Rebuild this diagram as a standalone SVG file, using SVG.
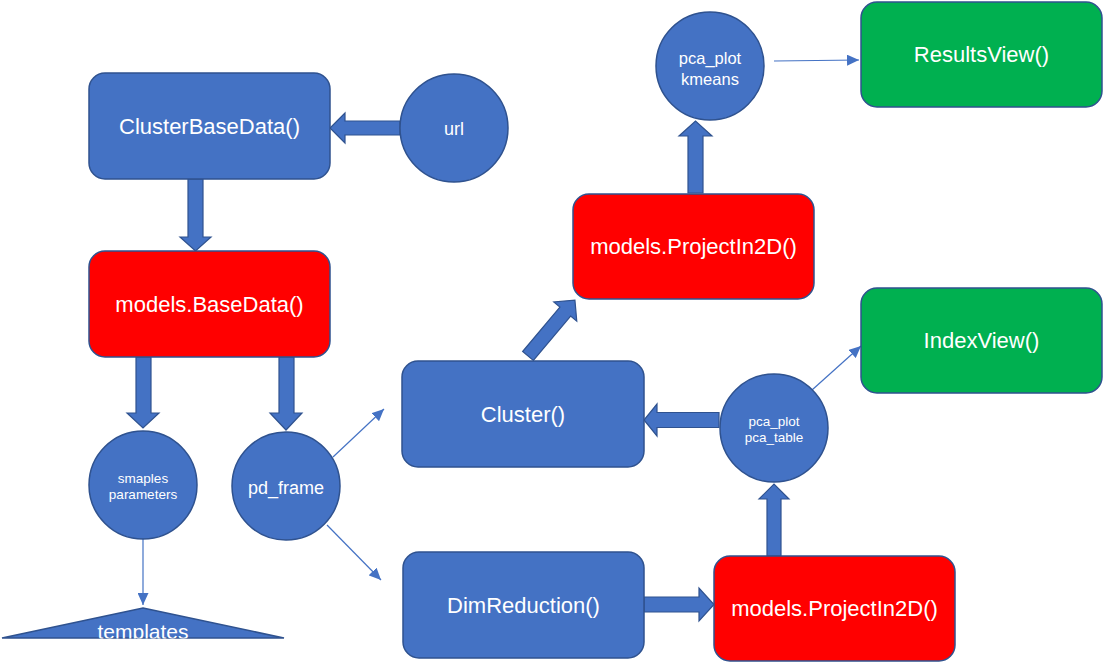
<svg xmlns="http://www.w3.org/2000/svg" width="1103" height="663" viewBox="0 0 1103 663">
<style>
.blue{fill:#4472C4;stroke:#2F528F;stroke-width:1.5}
.red{fill:#FF0000;stroke:#2F528F;stroke-width:1.5}
.green{fill:#00B050;stroke:#2F528F;stroke-width:1.5}
.barrow{fill:#4472C4;stroke:#2F528F;stroke-width:1.2}
.thin{fill:none;stroke:#4472C4;stroke-width:1.2;marker-end:url(#ah)}
text{font-family:"Liberation Sans",Arial,sans-serif;fill:#FFFFFF;text-anchor:middle}
.big{font-size:22px}
.mid{font-size:18px}
.sm{font-size:16.5px}
.xs{font-size:13.5px}
</style>
<defs>
<marker id="ah" markerUnits="userSpaceOnUse" markerWidth="12" markerHeight="11" refX="12" refY="5.5" orient="auto">
<path d="M0,0 L12,5.5 L0,11 z" fill="#4472C4"/>
</marker>
<clipPath id="tclip"><rect x="0" y="600" width="300" height="38.5"/></clipPath>
</defs>
<rect width="1103" height="663" fill="#FFFFFF"/>
<g id="connectors">
<polygon class="barrow" points="400,121 345,121 345,113 330,128 345,143 345,135 400,135"/>
<polygon class="barrow" points="188,179 203,179 203,237 211,237 195.5,251 180,237 188,237"/>
<polygon class="barrow" points="136,357 151,357 151,413 159,413 143,428 127,413 136,413"/>
<polygon class="barrow" points="279,357 294,357 294,413 302,413 286,430 270,413 279,413"/>
<polygon class="barrow" points="688,193 703,193 703,136 712,136 695.5,121 679,136 688,136"/>
<polygon class="barrow" points="767,556 781,556 781,499 789,499 774,484 759,499 767,499"/>
<polygon class="barrow" points="644,597 699,597 699,588 714,604.5 699,621 699,612 644,612"/>
<polygon class="barrow" points="719,412.5 657,412.5 657,404 644,420 657,436 657,427.5 719,427.5"/>
<polygon class="barrow" transform="translate(528,356) rotate(-50)" points="0,-7 58,-7 58,-15 73,0 58,15 58,7 0,7"/>
<line class="thin" x1="333" y1="457" x2="384" y2="409"/>
<line class="thin" x1="327" y1="525" x2="381" y2="580"/>
<line class="thin" x1="143" y1="538" x2="143" y2="605"/>
<line class="thin" x1="774" y1="61" x2="859" y2="60"/>
<line class="thin" x1="812" y1="390" x2="861" y2="346"/>
</g>
<g id="ClusterBaseData">
<rect class="blue" x="89" y="73" width="241" height="106" rx="16"/>
<text class="big" x="209.5" y="133.5">ClusterBaseData()</text>
</g>
<g id="url">
<circle class="blue" cx="454" cy="128" r="54"/>
<text class="mid" x="454" y="134.5">url</text>
</g>
<g id="BaseData">
<rect class="red" x="89" y="251" width="241" height="106" rx="16"/>
<text class="big" x="209.5" y="311.5">models.BaseData()</text>
</g>
<g id="smaples">
<circle class="blue" cx="143" cy="485" r="54"/>
<text class="xs" x="143" y="483">smaples</text>
<text class="xs" x="143" y="499">parameters</text>
</g>
<g id="pd_frame">
<circle class="blue" cx="286" cy="486" r="54"/>
<text class="mid" x="286" y="494">pd_frame</text>
</g>
<g id="templates">
<polygon class="blue" points="143,608 284,638 2,638"/>
<g clip-path="url(#tclip)"><text x="143" y="639" style="font-size:21px">templates</text></g>
</g>
<g id="Cluster">
<rect class="blue" x="402" y="361" width="242" height="106" rx="16"/>
<text class="big" x="523" y="421.5">Cluster()</text>
</g>
<g id="DimReduction">
<rect class="blue" x="403" y="552" width="241" height="106" rx="16"/>
<text class="big" x="523.5" y="612.5">DimReduction()</text>
</g>
<g id="ProjectIn2D_top">
<rect class="red" x="573" y="194" width="241" height="105" rx="16"/>
<text class="big" x="693.5" y="254">models.ProjectIn2D()</text>
</g>
<g id="ProjectIn2D_bottom">
<rect class="red" x="714" y="556" width="241" height="105" rx="16"/>
<text class="big" x="834.5" y="616">models.ProjectIn2D()</text>
</g>
<g id="pca_kmeans">
<circle class="blue" cx="710" cy="66" r="54"/>
<text class="sm" x="710" y="64">pca_plot</text>
<text class="sm" x="710" y="85">kmeans</text>
</g>
<g id="pca_table">
<circle class="blue" cx="774" cy="428" r="54"/>
<text class="xs" x="774" y="426">pca_plot</text>
<text class="xs" x="774" y="442">pca_table</text>
</g>
<g id="ResultsView">
<rect class="green" x="861" y="2" width="241" height="105" rx="16"/>
<text class="big" x="981.5" y="62">ResultsView()</text>
</g>
<g id="IndexView">
<rect class="green" x="861" y="288" width="241" height="105" rx="16"/>
<text class="big" x="981.5" y="348">IndexView()</text>
</g>
</svg>
